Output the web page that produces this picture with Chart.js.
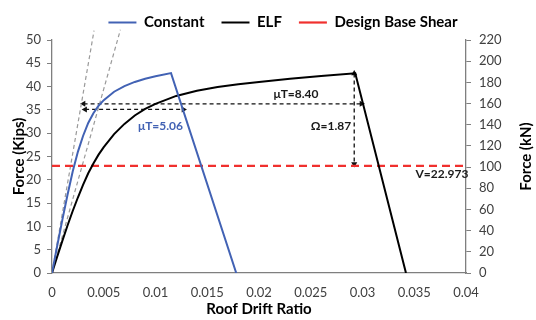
<!DOCTYPE html>
<html><head><meta charset="utf-8">
<script src="https://cdn.jsdelivr.net/npm/chart.js@4/dist/chart.umd.min.js"></script>
<style>html,body{margin:0;padding:0;background:#fff}#wrap{width:536px;height:320px;position:relative}</style>
</head><body><div id="wrap"><canvas id="c" width="536" height="320"></canvas></div>
<script>
// ---- data ----
const driftConstant = [0, 0.0005, 0.001, 0.0015, 0.002, 0.0025, 0.003, 0.0035, 0.004, 0.0045, 0.005, 0.006, 0.007, 0.008, 0.009, 0.010, 0.0115, 0.0178];
const forceConstant = [0, 5.8, 11.4, 16.8, 21.8, 26.0, 29.4, 32.2, 34.3, 35.9, 37.1, 38.9, 40.1, 41.0, 41.7, 42.2, 42.9, 0];
const driftELF = [0, 0.0005, 0.001, 0.0015, 0.002, 0.0025, 0.003, 0.0035, 0.004, 0.0045, 0.005, 0.006, 0.007, 0.008, 0.009, 0.010, 0.012, 0.014, 0.016, 0.018, 0.020, 0.023, 0.026, 0.0293, 0.0342];
const forceELF = [0, 3.5, 6.9, 10.2, 13.3, 16.2, 18.9, 21.4, 23.5, 25.4, 27.0, 29.8, 32.0, 33.8, 35.2, 36.3, 38.0, 39.1, 39.9, 40.5, 41.0, 41.7, 42.3, 42.85, 0];
const designBaseShear = 22.973;
const driftLimits = [0, 0.04];
const tangentConstantDrift = [0, 0.00406];
const tangentConstantForce = [0, 52.0];
const tangentELFDrift = [0, 0.00661];
const tangentELFForce = [0, 52.2];
const arrowELFDrift = [0.00305, 0.0299];
const arrowELFForce = [36.3, 36.3];
const arrowConstDrift = [0.0032, 0.0127];
const arrowConstForce = [35.1, 35.1];
const arrowOmegaDrift = [0.0292, 0.0292];
const arrowOmegaForce = [42.8, 23.4];
const leftTicks = [0, 50, 5];
const rightTicks = [0, 220, 20];
const xTicks = [0, 0.04, 0.005];
const noteTexts = ['\u03BCT=5.06', '\u03BCT=8.40', '\u03A9=1.87', 'V=22.973'];
const noteDrift = [0.01048, 0.02357, 0.02696, 0.03768];
const noteForce = [31.5, 38.3, 31.5, 21.2];

const FONT = 'Lato, "Liberation Sans", sans-serif';
const BLUE = '#4262b4';
const pts = (xs, ys) => xs.map((x, i) => ({x, y: ys[i]}));

const notesPlugin = {
  id: 'notes',
  afterLayout(chart) {
    // shift the centred legend slightly right, as in the reference
    chart.legend.left += 15;
    chart.legend.right += 15;
  },
  afterDatasetsDraw(chart) {
    const {ctx, scales} = chart;
    const x = scales.x, y = scales.y, y2 = scales.y2;
    ctx.save();
    ctx.textAlign = 'center';
    ctx.textBaseline = 'middle';
    ctx.font = 'bold 12px ' + FONT;
    noteTexts.forEach((t, i) => {
      ctx.fillStyle = i === 0 ? BLUE : '#1a1a1a';
      ctx.fillText(t, x.getPixelForValue(noteDrift[i]), y.getPixelForValue(noteForce[i]));
    });
    ctx.translate(y2.right - 10, (y2.top + y2.bottom) / 2);
    ctx.rotate(-Math.PI / 2);
    ctx.font = 'bold 15px ' + FONT;
    ctx.fillStyle = '#000';
    ctx.fillText('Force (kN)', 0, 0);
    ctx.restore();
  }
};

const arrowDs = (xs, ys, rot) => ({
  label: '', data: pts(xs, ys), showLine: true, borderColor: '#111', backgroundColor: '#111',
  borderWidth: 1.3, borderDash: [4, 3], pointStyle: 'triangle', pointRadius: 3.5,
  pointRotation: rot, pointBorderWidth: 0, clip: false
});

new Chart(document.getElementById('c'), {
  type: 'scatter',
  data: {
    datasets: [
      {label: 'Constant', data: pts(driftConstant, forceConstant), showLine: true, borderColor: BLUE, backgroundColor: BLUE, borderWidth: 2, pointRadius: 0, tension: 0},
      {label: 'ELF', data: pts(driftELF, forceELF), showLine: true, borderColor: '#000', backgroundColor: '#000', borderWidth: 2, pointRadius: 0},
      {label: 'Design Base Shear', data: pts(driftLimits, [designBaseShear, designBaseShear]), showLine: true, borderColor: '#f0302e', backgroundColor: '#f0302e', borderWidth: 2.2, borderDash: [8, 5], pointRadius: 0},
      {label: '', data: pts(tangentConstantDrift, tangentConstantForce), showLine: true, borderColor: '#9a9a9a', borderWidth: 1.2, borderDash: [4, 3], pointRadius: 0, clip: false},
      {label: '', data: pts(tangentELFDrift, tangentELFForce), showLine: true, borderColor: '#9a9a9a', borderWidth: 1.2, borderDash: [4, 3], pointRadius: 0, clip: false},
      arrowDs(arrowELFDrift, arrowELFForce, [-90, 90]),
      arrowDs(arrowConstDrift, arrowConstForce, [-90, 90]),
      arrowDs(arrowOmegaDrift, arrowOmegaForce, [0, 180])
    ]
  },
  options: {
    responsive: false, animation: false, devicePixelRatio: 1,
    layout: {padding: {top: -10, left: 0, right: 0, bottom: 0}},
    plugins: {
      tooltip: {enabled: false},
      legend: {
        position: 'top',
        labels: {
          filter: (item) => item.datasetIndex < 3,
          usePointStyle: true, pointStyle: 'line', pointStyleWidth: 28,
          font: {family: FONT, size: 15, weight: 'bold'}, color: '#000', padding: 17
        }
      }
    },
    scales: {
      x: {
        type: 'linear', min: xTicks[0], max: xTicks[1],
        ticks: {stepSize: xTicks[2], font: {family: FONT, size: 13}, color: '#404040', padding: 12, callback: v => String(+v.toFixed(3))},
        grid: {display: true, drawOnChartArea: false, drawTicks: false},
        border: {display: true, color: '#7f7f7f', width: 1.3},
        title: {display: true, text: 'Roof Drift Ratio', font: {family: FONT, size: 15, weight: 'bold'}, color: '#000', padding: {top: 0, bottom: 2}},
        afterFit: s => { s.height = 47; }
      },
      y: {
        type: 'linear', position: 'left', min: leftTicks[0], max: leftTicks[1],
        ticks: {stepSize: leftTicks[2], font: {family: FONT, size: 13}, color: '#404040', padding: 6},
        grid: {display: true, drawOnChartArea: false, drawTicks: true, tickLength: 5, color: '#7f7f7f'},
        border: {display: true, color: '#7f7f7f', width: 1.3},
        title: {display: true, text: 'Force (Kips)', font: {family: FONT, size: 15, weight: 'bold'}, color: '#000', padding: {top: 10, bottom: 0}},
        afterFit: s => { s.width = 52; s.paddingTop = 40; }
      },
      y2: {
        type: 'linear', position: 'right', min: rightTicks[0], max: rightTicks[1],
        ticks: {stepSize: rightTicks[2], font: {family: FONT, size: 13}, color: '#404040', padding: 8},
        grid: {display: true, drawOnChartArea: false, drawTicks: true, tickLength: 5, color: '#7f7f7f'},
        border: {display: true, color: '#7f7f7f', width: 1.3},
        afterFit: s => { s.width = 70; }
      }
    }
  },
  plugins: [notesPlugin]
});
</script></body></html>
